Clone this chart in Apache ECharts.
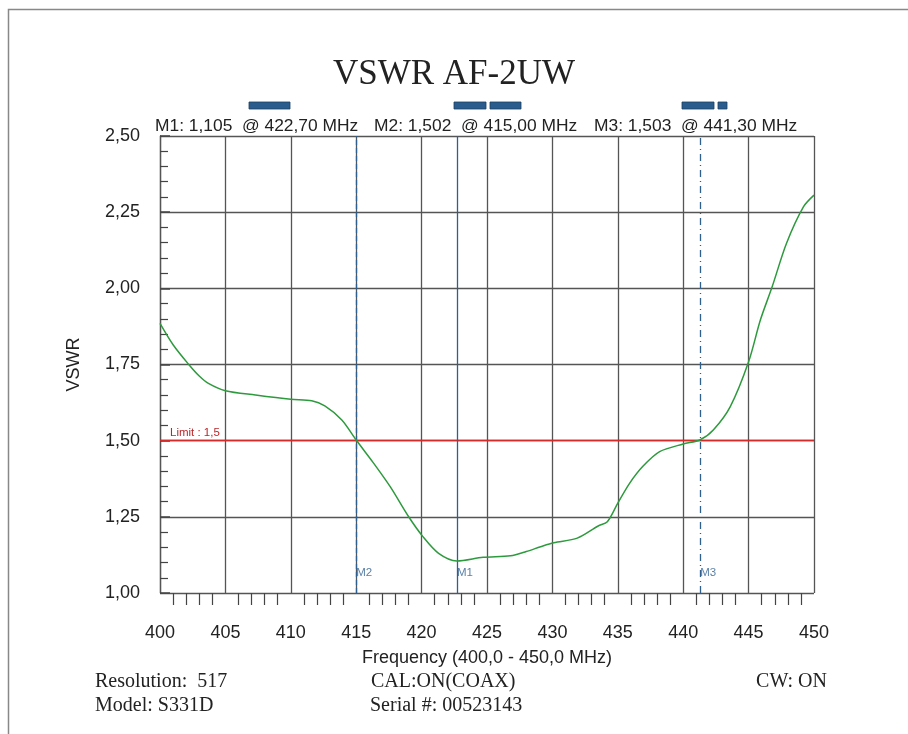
<!DOCTYPE html>
<html>
<head>
<meta charset="utf-8">
<script src="https://cdn.jsdelivr.net/npm/echarts@6/dist/echarts.min.js"></script>
<style>html,body{margin:0;padding:0;background:#fff}#c{width:908px;height:734px}</style>
</head>
<body>
<div id="c"></div>
<script>
// Frequency (MHz) and VSWR
const freqs = [400.0,401.0,402.2,403.0,403.7,405.0,407.3,410.0,411.6,412.6,413.9,415.0,416.3,417.6,419.0,420.1,421.3,422.7,424.7,426.8,428.0,429.1,430.1,431.9,433.5,434.2,435.0,435.9,436.9,438.2,440.0,441.3,442.3,443.6,445.0,445.9,446.8,447.9,449.2,450.0];
const vswr  = [1.885,1.815,1.750,1.712,1.688,1.664,1.650,1.636,1.631,1.614,1.568,1.502,1.428,1.349,1.251,1.185,1.130,1.105,1.117,1.122,1.136,1.152,1.165,1.180,1.220,1.234,1.295,1.360,1.415,1.464,1.489,1.503,1.535,1.612,1.759,1.896,2.005,2.148,2.268,2.306];
const markerNames = ['M1','M2','M3'];
const markerFreqs = [422.7, 415.0, 441.3];
const markerVals  = [1.105, 1.502, 1.503];
const limitValue = 1.5;
const xTicks = [400,405,410,415,420,425,430,435,440,445,450];
const yTicks = [1.00,1.25,1.50,1.75,2.00,2.25,2.50];

const fmt = (v, d) => v.toFixed(d).replace('.', ',');
const readouts = markerNames.map((n, i) => n + ': ' + fmt(markerVals[i], 3) + '  @ ' + fmt(markerFreqs[i], 2) + ' MHz');
const readoutLefts = [155, 374, 594];

const lineTypes = {M1: 'solid', M2: [5, 3], M3: [7, 4, 1, 4]};
const markColor = '#2f5f8f';
const serif = '20px "Liberation Serif"';

const chart = echarts.init(document.getElementById('c'));
chart.setOption({
  animation: false,
  backgroundColor: '#fff',
  title: {
    text: 'VSWR AF-2UW', left: 'center', top: 52,
    textStyle: {fontFamily: 'Liberation Serif', fontSize: 35, fontWeight: 'normal', color: '#222'}
  },
  grid: {left: 160, right: 94, top: 136, bottom: 141},
  xAxis: {
    type: 'value', min: xTicks[0], max: xTicks[xTicks.length - 1], interval: 5,
    name: 'Frequency (400,0 - 450,0 MHz)', nameLocation: 'middle', nameGap: 56,
    nameTextStyle: {fontFamily: 'Liberation Sans', fontSize: 18, color: '#222'},
    axisLine: {show: false},
    axisTick: {show: false},
    minorTick: {show: true, splitNumber: 5, length: 12, lineStyle: {color: '#444', width: 1.2}},
    axisLabel: {fontFamily: 'Liberation Sans', fontSize: 18, color: '#222', margin: 31, formatter: v => String(v)},
    splitLine: {show: true, lineStyle: {color: '#555', width: 1.3}}
  },
  yAxis: {
    type: 'value', min: yTicks[0], max: yTicks[yTicks.length - 1], interval: 0.25,
    name: 'VSWR', nameLocation: 'middle', nameGap: 77, nameRotate: 90,
    nameTextStyle: {fontFamily: 'Liberation Sans', fontSize: 18, color: '#222'},
    axisLine: {show: true, lineStyle: {color: '#555', width: 1.3}},
    axisTick: {show: true, inside: true, length: 10, lineStyle: {color: '#444', width: 1.5}},
    minorTick: {show: true, splitNumber: 5, length: 8, lineStyle: {color: '#444', width: 1.2}},
    axisLabel: {fontFamily: 'Liberation Sans', fontSize: 18, color: '#222', margin: 20, formatter: v => fmt(v, 2)},
    splitLine: {show: true, lineStyle: {color: '#555', width: 1.3}}
  },
  series: [
    {
      type: 'line', data: freqs.map((f, i) => [f, vswr[i]]), smooth: 0.3, showSymbol: false,
      lineStyle: {color: '#2e9a3e', width: 1.5}, z: 5,
      markLine: {
        silent: true, symbol: 'none',
        data: [
          {yAxis: limitValue, lineStyle: {color: '#d42a2a', width: 1.3, type: 'solid'},
           label: {show: true, position: 'insideStartTop', formatter: 'Limit : 1,5', color: '#b8282a', fontSize: 11.5, fontFamily: 'Liberation Sans', distance: [10, 2]}}
        ].concat(markerNames.map((n, i) => ({
          xAxis: markerFreqs[i],
          lineStyle: {color: markColor, width: 1.3, type: lineTypes[n]},
          label: {show: false}
        })))
      }
    },
    {
      type: 'scatter', symbolSize: 0, silent: true,
      data: markerFreqs.map(f => [f, 1.065]),
      label: {show: true, position: 'right', distance: 0, formatter: p => markerNames[p.dataIndex], color: markColor, fontSize: 11.5, fontFamily: 'Liberation Sans'}
    }
  ],
  graphic: [
    {type: 'polyline', shape: {points: [[8.5, 740], [8.5, 9.5], [908, 9.5]]}, style: {stroke: '#888', lineWidth: 1.5, fill: null}},
    ...readouts.map((t, i) => ({type: 'text', left: readoutLefts[i], top: 118, style: {text: t, font: '17.4px "Liberation Sans"', fill: '#222'}})),
    {type: 'rect', shape: {x: 249, y: 102, width: 41, height: 7}, style: {fill: '#2a5d8e', stroke: '#1d3f62', lineWidth: 0.8}},
    {type: 'rect', shape: {x: 454, y: 102, width: 32, height: 7}, style: {fill: '#2a5d8e', stroke: '#1d3f62', lineWidth: 0.8}},
    {type: 'rect', shape: {x: 490, y: 102, width: 31, height: 7}, style: {fill: '#2a5d8e', stroke: '#1d3f62', lineWidth: 0.8}},
    {type: 'rect', shape: {x: 682, y: 102, width: 32, height: 7}, style: {fill: '#2a5d8e', stroke: '#1d3f62', lineWidth: 0.8}},
    {type: 'rect', shape: {x: 718, y: 102, width: 9, height: 7}, style: {fill: '#2a5d8e', stroke: '#1d3f62', lineWidth: 0.8}},
    {type: 'text', left: 95, top: 672, style: {text: 'Resolution:  517', font: serif, fill: '#222'}},
    {type: 'text', left: 95, top: 696, style: {text: 'Model: S331D', font: serif, fill: '#222'}},
    {type: 'text', left: 371, top: 672, style: {text: 'CAL:ON(COAX)', font: serif, fill: '#222'}},
    {type: 'text', left: 370, top: 696, style: {text: 'Serial #: 00523143', font: serif, fill: '#222'}},
    {type: 'text', right: 81, top: 672, style: {text: 'CW: ON', font: serif, fill: '#222'}}
  ]
});
</script>
</body>
</html>
